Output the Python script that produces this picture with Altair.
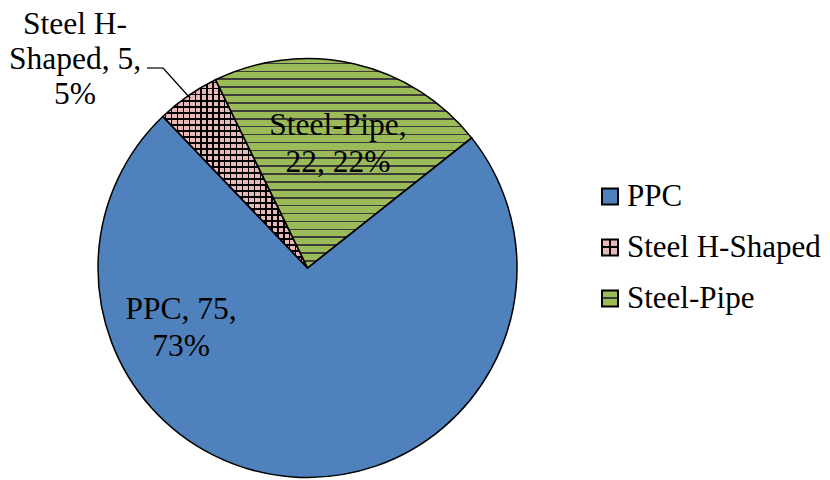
import math
import altair as alt
import pandas as pd

# ---- data ----
categories = ["PPC", "Steel H-Shaped", "Steel-Pipe"]
values = [75, 5, 22]
percents = [73, 5, 22]
slice_labels = ["PPC, 75,\n73%", "Steel H-\nShaped, 5,\n5%", "Steel-Pipe,\n22, 22%"]
order = [0, 1, 2]

df = pd.DataFrame({"cat": categories, "val": values, "pct": percents,
                   "label": slice_labels, "ord": order})

# ---- styles ----
BLUE = "#4F81BD"
PINK = "#E6B9B8"
GREEN = "#9BBB59"
STRIPE = "#3C3C3C"
FONT = "Liberation Serif"
FS = 31.5
CX, CY, R = 299.5, 260, 209.5
START = math.radians(51.6)


def stripes(base, line, size, spacing, width, phase, vertical=False):
    stops = [(0.0, base)]
    c = phase
    while c - width / 2 < size:
        a = max((c - width / 2) / size, 0.0)
        b = min((c + width / 2) / size, 1.0)
        if b > 0:
            stops += [(a, base), (a, line), (b, line), (b, base)]
        c += spacing
    stops.append((1.0, base))
    return {
        "gradient": "linear",
        "x1": 0, "y1": 0,
        "x2": 1 if vertical else 0,
        "y2": 0 if vertical else 1,
        "stops": [{"offset": round(o, 5), "color": col} for o, col in stops],
    }


pipe_grad = stripes(GREEN, STRIPE, 209.5, 7.9, 1.6, 4.9)
h_grad_h = stripes(PINK, "#000000", 188, 6.0, 1.4, 3.0)
h_grad_v = stripes("transparent", "#000000", 147, 6.0, 1.4, 3.0, vertical=True)

leg_pipe = stripes(GREEN, STRIPE, 16, 100, 2.0, 8.0)
leg_h_h = stripes(PINK, "#000000", 16, 100, 2.0, 8.0)
leg_h_v = stripes("transparent", "#000000", 16, 100, 2.0, 8.0, vertical=True)

theta = alt.Theta("val:Q", stack=True,
                  scale=alt.Scale(range=[START, START + 2 * math.pi], nice=False, zero=True))
ordr = alt.Order("ord:Q")

base = alt.Chart(df)

fill_main = {
    "condition": [
        {"test": "datum.cat == 'PPC'", "value": BLUE},
        {"test": "datum.cat == 'Steel H-Shaped'", "value": h_grad_h},
    ],
    "value": pipe_grad,
}
fill_over = {
    "condition": [{"test": "datum.cat == 'Steel H-Shaped'", "value": h_grad_v}],
    "value": "transparent",
}

arc_fill = base.mark_arc(radius=R, strokeWidth=0).encode(
    theta=theta, order=ordr, fill=fill_main, x=alt.value(CX), y=alt.value(CY))
arc_over = base.mark_arc(radius=R, strokeWidth=0).encode(
    theta=theta, order=ordr, fill=fill_over, x=alt.value(CX), y=alt.value(CY))
arc_stroke = base.mark_arc(radius=R, stroke="black", strokeWidth=1.5, fill="transparent").encode(
    theta=theta, order=ordr, x=alt.value(CX), y=alt.value(CY))

# slice labels
def slice_label(cat, x, y, lh):
    return base.transform_filter(alt.datum.cat == cat).mark_text(
        font=FONT, fontSize=FS, align="center", baseline="alphabetic",
        lineBreak="\n", lineHeight=lh, color="black").encode(
        text="label:N", x=alt.value(x), y=alt.value(y))

lab_ppc = slice_label("PPC", 173, 311, 37)
lab_pipe = slice_label("Steel-Pipe", 330, 127, 37)
lab_h = slice_label("Steel H-Shaped", 67, 25.5, 35)

lead1 = base.transform_filter(alt.datum.cat == "Steel H-Shaped").mark_rule(
    color="black", strokeWidth=1.2).encode(
    x=alt.value(139), x2=alt.value(155), y=alt.value(60), y2=alt.value(60))
lead2 = base.transform_filter(alt.datum.cat == "Steel H-Shaped").mark_rule(
    color="black", strokeWidth=1.2).encode(
    x=alt.value(155), x2=alt.value(182), y=alt.value(60), y2=alt.value(90))

# manual legend
leg_y = alt.Y("cat:N", sort=categories, axis=None,
              scale=alt.Scale(type="point", range=[188.5, 290.5], padding=0))
leg_fill = {
    "condition": [
        {"test": "datum.cat == 'PPC'", "value": BLUE},
        {"test": "datum.cat == 'Steel H-Shaped'", "value": leg_h_h},
    ],
    "value": leg_pipe,
}
leg_over = {
    "condition": [{"test": "datum.cat == 'Steel H-Shaped'", "value": leg_h_v}],
    "value": "transparent",
}
LX = 602
sq1 = base.mark_square(size=256, strokeWidth=0, opacity=1).encode(
    y=leg_y, x=alt.value(LX), fill=leg_fill)
sq2 = base.mark_square(size=256, strokeWidth=0, opacity=1).encode(
    y=leg_y, x=alt.value(LX), fill=leg_over)
sq3 = base.mark_square(size=256, stroke="black", strokeWidth=2, fill="transparent",
                       filled=False, opacity=1).encode(y=leg_y, x=alt.value(LX))
leg_text = base.mark_text(font=FONT, fontSize=31, align="left", baseline="middle",
                          color="black").encode(y=leg_y, x=alt.value(619), text="cat:N")

chart = alt.layer(arc_fill, arc_over, arc_stroke, lab_ppc, lab_pipe, lab_h,
                  lead1, lead2, sq1, sq2, sq3, leg_text).properties(
    width=814, height=472, padding=0, autosize="none", background="white"
).configure_view(stroke=None)

chart.save("out.html", embed_options={"renderer": "svg", "actions": False})
